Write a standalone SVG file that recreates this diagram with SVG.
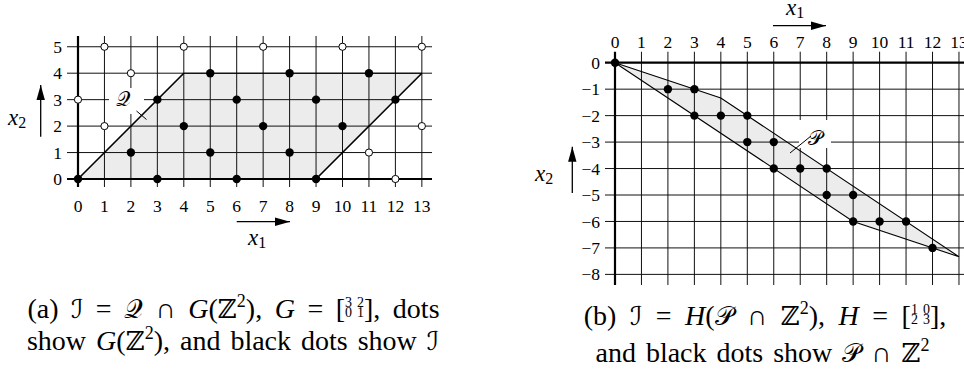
<svg xmlns="http://www.w3.org/2000/svg" width="964" height="369" viewBox="0 0 964 369">
<style>
.bg{fill:#fff}
.grid{fill:none;stroke:#111;stroke-width:1}
.axis{fill:none;stroke:#000;stroke-width:2.2}
.region{fill:#ececec;stroke:none}
.edge{fill:none;stroke:#000;stroke-width:1.6}
.edge2{fill:none;stroke:#000;stroke-width:1.1}
.lead{fill:none;stroke:#000;stroke-width:1}
.dot{fill:#000}
.open{fill:#fff;stroke:#000;stroke-width:1}
.mask{fill:#fff;stroke:none}
.arr{fill:none;stroke:#000;stroke-width:1.3}
.tk{font-family:"Liberation Serif","DejaVu Serif",serif;font-size:17.5px;fill:#000}
.xl{font-family:"Liberation Serif","DejaVu Serif",serif;font-size:23px;font-style:italic;fill:#000}
.sub{font-style:normal;font-size:16px}
.cal{font-family:"DejaVu Serif","DejaVu Sans",serif;font-size:20px;font-style:normal;fill:#000}
.cap{font-family:"Liberation Serif","DejaVu Serif",serif;font-size:28px;fill:#000}
.it{font-style:italic}
.ms{font-family:"DejaVu Serif","DejaVu Sans",serif;font-size:26px}
.sup{font-size:18px}
.mat{font-size:14px}
</style>
<defs>
<marker id="ah" markerUnits="userSpaceOnUse" markerWidth="16" markerHeight="10" viewBox="-15 -5 16 10" refX="0" refY="0" orient="auto">
<path d="M0,0 L-15,-4.2 L-15,4.2 Z" fill="#000"/>
</marker>
</defs>
<rect class="bg" x="0" y="0" width="964" height="369"/>

<!-- Panel (a) -->
<g id="panel-a">
<polygon id="region-Q" class="region" points="78,179 183.8,73.2 421.85,73.2 316.05,179"/>
<g id="grid-a">
<path class="grid" d="M104.45 36V187M130.9 36V187M157.35 36V187M183.8 36V187M210.25 36V187M236.7 36V187M263.15 36V187M289.6 36V187M316.05 36V187M342.5 36V187M368.95 36V187M395.4 36V187M421.85 36V187M67 152.55H432M67 126.1H432M67 99.65H432M67 73.2H432M67 46.75H432"/>
<path class="axis" d="M78 36V187M67 179H432"/>
</g>
<rect class="mask" x="109" y="88" width="35" height="26"/>
<g id="edges-Q">
<path class="edge" d="M78 179L183.8 73.2M316.05 179L421.85 73.2"/>
<path class="edge2" d="M183.8 73.2H421.85"/>
</g>
<g id="label-Q">
<path class="lead" d="M136.5 111L146.5 119.5"/>
<text class="cal" x="116" y="106">𝒬</text>
</g>
<g id="dots-a">
<circle class="dot" cx="78" cy="179" r="4.2"/>
<circle class="dot" cx="157.35" cy="179" r="4.2"/>
<circle class="dot" cx="236.7" cy="179" r="4.2"/>
<circle class="dot" cx="316.05" cy="179" r="4.2"/>
<circle class="dot" cx="130.9" cy="152.55" r="4.2"/>
<circle class="dot" cx="210.25" cy="152.55" r="4.2"/>
<circle class="dot" cx="289.6" cy="152.55" r="4.2"/>
<circle class="dot" cx="183.8" cy="126.1" r="4.2"/>
<circle class="dot" cx="263.15" cy="126.1" r="4.2"/>
<circle class="dot" cx="342.5" cy="126.1" r="4.2"/>
<circle class="dot" cx="157.35" cy="99.65" r="4.2"/>
<circle class="dot" cx="236.7" cy="99.65" r="4.2"/>
<circle class="dot" cx="316.05" cy="99.65" r="4.2"/>
<circle class="dot" cx="395.4" cy="99.65" r="4.2"/>
<circle class="dot" cx="210.25" cy="73.2" r="4.2"/>
<circle class="dot" cx="289.6" cy="73.2" r="4.2"/>
<circle class="dot" cx="368.95" cy="73.2" r="4.2"/>
<circle class="open" cx="395.4" cy="179" r="3.6"/>
<circle class="open" cx="368.95" cy="152.55" r="3.6"/>
<circle class="open" cx="104.45" cy="126.1" r="3.6"/>
<circle class="open" cx="421.85" cy="126.1" r="3.6"/>
<circle class="open" cx="78" cy="99.65" r="3.6"/>
<circle class="open" cx="130.9" cy="73.2" r="3.6"/>
<circle class="open" cx="104.45" cy="46.75" r="3.6"/>
<circle class="open" cx="183.8" cy="46.75" r="3.6"/>
<circle class="open" cx="263.15" cy="46.75" r="3.6"/>
<circle class="open" cx="342.5" cy="46.75" r="3.6"/>
<circle class="open" cx="421.85" cy="46.75" r="3.6"/>
</g>
<g id="ticks-a" class="tk" text-anchor="middle">
<text x="78" y="211.5">0</text><text x="104.45" y="211.5">1</text><text x="130.9" y="211.5">2</text><text x="157.35" y="211.5">3</text><text x="183.8" y="211.5">4</text><text x="210.25" y="211.5">5</text><text x="236.7" y="211.5">6</text><text x="263.15" y="211.5">7</text><text x="289.6" y="211.5">8</text><text x="316.05" y="211.5">9</text><text x="342.5" y="211.5">10</text><text x="368.95" y="211.5">11</text><text x="395.4" y="211.5">12</text><text x="421.85" y="211.5">13</text>
</g>
<g id="yticks-a" class="tk" text-anchor="end">
<text x="62" y="185">0</text><text x="62" y="158.5">1</text><text x="62" y="132">2</text><text x="62" y="105.6">3</text><text x="62" y="79.2">4</text><text x="62" y="52.7">5</text>
</g>
<g id="axis-labels-a">
<path class="arr" d="M236.7 221.7H290" marker-end="url(#ah)"/>
<text class="xl" x="248" y="245">x<tspan class="sub" dy="3">1</tspan></text>
<path class="arr" d="M40.7 136.7V85" marker-end="url(#ah)"/>
<text class="xl" x="8" y="125">x<tspan class="sub" dy="3">2</tspan></text>
</g>
<g id="caption-a" class="cap" text-anchor="middle">
<text x="233.5" y="318" word-spacing="5.5">(a) <tspan class="ms">ℐ</tspan> = <tspan class="ms">𝒬</tspan> ∩ <tspan class="it">G</tspan>(<tspan class="ms">ℤ</tspan><tspan class="sup" dy="-11">2</tspan><tspan dy="11">), </tspan><tspan class="it">G</tspan> = [<tspan class="mat" dy="-11.5">3</tspan><tspan class="mat" dx="5">2</tspan><tspan class="mat" dx="-19" dy="10.5">0</tspan><tspan class="mat" dx="5">1</tspan><tspan dy="1">], dots</tspan></text>
<text x="233" y="350" word-spacing="3">show <tspan class="it">G</tspan>(<tspan class="ms">ℤ</tspan><tspan class="sup" dy="-11">2</tspan><tspan dy="11">), and black dots show </tspan><tspan class="ms">ℐ</tspan></text>
</g>
</g>

<!-- Panel (b) -->
<g id="panel-b">
<polygon id="region-P" class="region" points="615,62.7 720.84,97.98 958.98,256.74 853.14,221.46"/>
<g id="grid-b">
<path class="grid" d="M641.46 51.7V285M667.92 51.7V285M694.38 51.7V285M720.84 51.7V285M747.3 51.7V285M773.76 51.7V285M800.22 51.7V285M826.68 51.7V285M853.14 51.7V285M879.6 51.7V285M906.06 51.7V285M932.52 51.7V285M958.98 51.7V285M605 89.16H964M605 115.62H964M605 142.08H964M605 168.54H964M605 195H964M605 221.46H964M605 247.92H964M605 274.38H964"/>
<path class="axis" d="M615 51.7V285M605 62.7H964"/>
</g>
<rect class="mask" x="799" y="120" width="32" height="28"/>
<g id="edges-P">
<polygon class="edge2" points="615,62.7 720.84,97.98 958.98,256.74 853.14,221.46"/>
</g>
<g id="label-P">
<path class="lead" d="M790 153L811 136"/>
<text class="cal" x="808" y="145">𝒫</text>
</g>
<g id="dots-b">
<circle class="dot" cx="615" cy="62.7" r="4.2"/>
<circle class="dot" cx="667.92" cy="89.16" r="4.2"/>
<circle class="dot" cx="694.38" cy="89.16" r="4.2"/>
<circle class="dot" cx="694.38" cy="115.62" r="4.2"/>
<circle class="dot" cx="720.84" cy="115.62" r="4.2"/>
<circle class="dot" cx="747.3" cy="115.62" r="4.2"/>
<circle class="dot" cx="747.3" cy="142.08" r="4.2"/>
<circle class="dot" cx="773.76" cy="142.08" r="4.2"/>
<circle class="dot" cx="773.76" cy="168.54" r="4.2"/>
<circle class="dot" cx="800.22" cy="168.54" r="4.2"/>
<circle class="dot" cx="826.68" cy="168.54" r="4.2"/>
<circle class="dot" cx="826.68" cy="195" r="4.2"/>
<circle class="dot" cx="853.14" cy="195" r="4.2"/>
<circle class="dot" cx="853.14" cy="221.46" r="4.2"/>
<circle class="dot" cx="879.6" cy="221.46" r="4.2"/>
<circle class="dot" cx="906.06" cy="221.46" r="4.2"/>
<circle class="dot" cx="932.52" cy="247.92" r="4.2"/>
</g>
<g id="ticks-b" class="tk" text-anchor="middle">
<text x="615" y="48">0</text><text x="641.46" y="48">1</text><text x="667.92" y="48">2</text><text x="694.38" y="48">3</text><text x="720.84" y="48">4</text><text x="747.3" y="48">5</text><text x="773.76" y="48">6</text><text x="800.22" y="48">7</text><text x="826.68" y="48">8</text><text x="853.14" y="48">9</text><text x="879.6" y="48">10</text><text x="906.06" y="48">11</text><text x="932.52" y="48">12</text><text x="958.98" y="48">13</text>
</g>
<g id="yticks-b" class="tk" text-anchor="end">
<text x="600" y="68.7">0</text><text x="600" y="95.2">−1</text><text x="600" y="121.6">−2</text><text x="600" y="148.1">−3</text><text x="600" y="174.5">−4</text><text x="600" y="201">−5</text><text x="600" y="227.5">−6</text><text x="600" y="253.9">−7</text><text x="600" y="280.4">−8</text>
</g>
<g id="axis-labels-b">
<path class="arr" d="M773 25.7H826" marker-end="url(#ah)"/>
<text class="xl" x="786" y="15">x<tspan class="sub" dy="3">1</tspan></text>
<path class="arr" d="M572.3 193V146.7" marker-end="url(#ah)"/>
<text class="xl" x="535" y="181">x<tspan class="sub" dy="3">2</tspan></text>
</g>
<g id="caption-b" class="cap" text-anchor="middle">
<text x="765" y="325" word-spacing="6.5">(b) <tspan class="ms">ℐ</tspan> = <tspan class="it">H</tspan>(<tspan class="ms">𝒫</tspan> ∩ <tspan class="ms">ℤ</tspan><tspan class="sup" dy="-11">2</tspan><tspan dy="11">), </tspan><tspan class="it">H</tspan> = [<tspan class="mat" dy="-11.5">1</tspan><tspan class="mat" dx="5">0</tspan><tspan class="mat" dx="-19" dy="10.5">2</tspan><tspan class="mat" dx="5">3</tspan><tspan dy="1">],</tspan></text>
<text x="762.5" y="361.5" word-spacing="3">and black dots show <tspan class="ms">𝒫</tspan> ∩ <tspan class="ms">ℤ</tspan><tspan class="sup" dy="-11">2</tspan></text>
</g>
</g>
</svg>
